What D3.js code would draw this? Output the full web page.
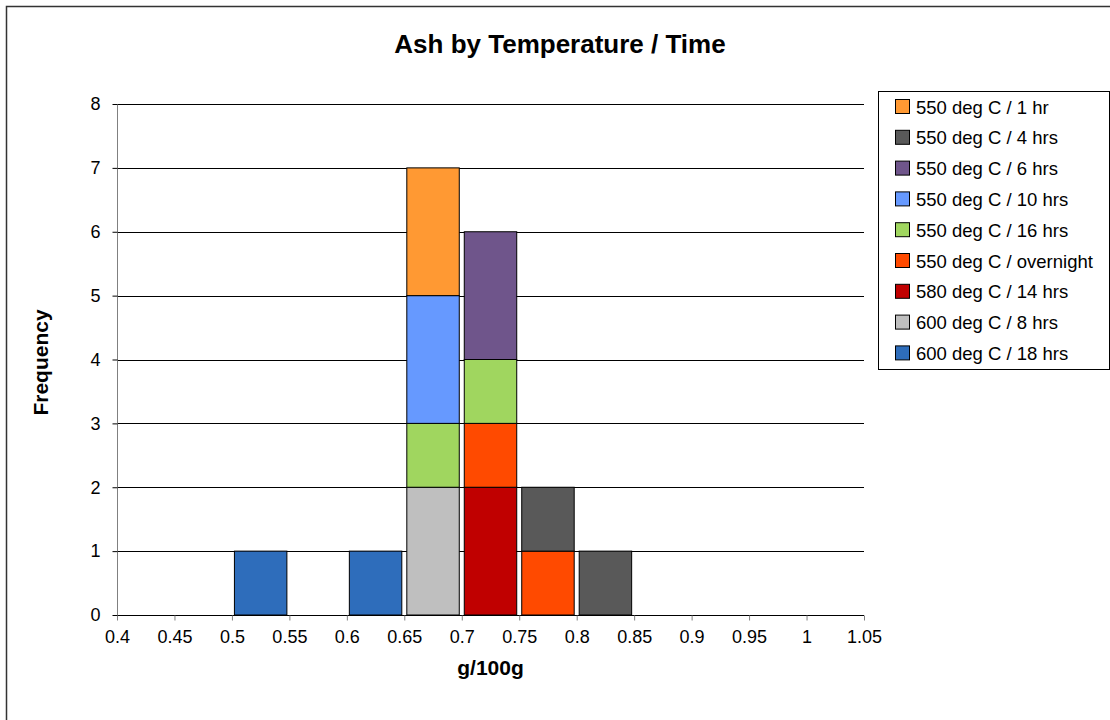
<!DOCTYPE html>
<html>
<head>
<meta charset="utf-8">
<script src="https://cdn.jsdelivr.net/npm/d3@7"></script>
<style>
  body { margin: 0; background: #fff; }
  svg { display: block; font-family: "Liberation Sans", Arial, sans-serif; }
</style>
</head>
<body>
<svg id="chart" width="1110" height="720"></svg>
<script>
// Histogram bins (lower edge of each 0.05 g/100g bin)
const binStarts = [0.40, 0.45, 0.50, 0.55, 0.60, 0.65, 0.70, 0.75, 0.80, 0.85, 0.90, 0.95, 1.00];
const binWidth = 0.05;

// Series, listed in legend order (top of stack first)
const seriesNames = [
  "550 deg C / 1 hr",
  "550 deg C / 4 hrs",
  "550 deg C / 6 hrs",
  "550 deg C / 10 hrs",
  "550 deg C / 16 hrs",
  "550 deg C / overnight",
  "580 deg C / 14 hrs",
  "600 deg C / 8 hrs",
  "600 deg C / 18 hrs"
];
const seriesColors = [
  "#FF9933", "#595959", "#6F558B", "#6699FF", "#A0D65F",
  "#FF4A00", "#C00000", "#BFBFBF", "#2E6DBB"
];

// Frequency per bin for each series (same order as binStarts)
const f550_1hr   = [0, 0, 0, 0, 0, 2, 0, 0, 0, 0, 0, 0, 0];
const f550_4hrs  = [0, 0, 0, 0, 0, 0, 0, 1, 1, 0, 0, 0, 0];
const f550_6hrs  = [0, 0, 0, 0, 0, 0, 2, 0, 0, 0, 0, 0, 0];
const f550_10hrs = [0, 0, 0, 0, 0, 2, 0, 0, 0, 0, 0, 0, 0];
const f550_16hrs = [0, 0, 0, 0, 0, 1, 1, 0, 0, 0, 0, 0, 0];
const f550_night = [0, 0, 0, 0, 0, 0, 1, 1, 0, 0, 0, 0, 0];
const f580_14hrs = [0, 0, 0, 0, 0, 0, 2, 0, 0, 0, 0, 0, 0];
const f600_8hrs  = [0, 0, 0, 0, 0, 2, 0, 0, 0, 0, 0, 0, 0];
const f600_18hrs = [0, 0, 1, 0, 1, 0, 0, 0, 0, 0, 0, 0, 0];
const seriesValues = [f550_1hr, f550_4hrs, f550_6hrs, f550_10hrs, f550_16hrs,
                      f550_night, f580_14hrs, f600_8hrs, f600_18hrs];

const xTicks = [0.4, 0.45, 0.5, 0.55, 0.6, 0.65, 0.7, 0.75, 0.8, 0.85, 0.9, 0.95, 1, 1.05];
const yTicks = [0, 1, 2, 3, 4, 5, 6, 7, 8];

const FONT = "'Liberation Sans', Arial, sans-serif";
const svg = d3.select("#chart");
const plot = { left: 117, right: 864, top: 104, bottom: 615 };

// Outer chart frame
svg.append("rect")
  .attr("x", 6.5).attr("y", 6.5)
  .attr("width", 1120).attr("height", 730)
  .attr("fill", "#fff").attr("stroke", "#333").attr("stroke-width", 1.5);

const x = d3.scaleLinear().domain([0.4, 1.05]).range([plot.left, plot.right]);
const y = d3.scaleLinear().domain([0, 8]).range([plot.bottom, plot.top]);

// Gridlines
svg.append("g")
  .selectAll("line")
  .data(yTicks.filter(d => d > 0))
  .join("line")
  .attr("x1", plot.left).attr("x2", plot.right)
  .attr("y1", d => Math.round(y(d)) + 0.5).attr("y2", d => Math.round(y(d)) + 0.5)
  .attr("stroke", "#000").attr("stroke-width", 1);

// Stack bottom-up: reverse the legend order
const keys = seriesNames.slice().reverse();
const table = binStarts.map((b, i) => {
  const row = { bin: b };
  seriesNames.forEach((name, s) => { row[name] = seriesValues[s][i]; });
  return row;
});
const stacked = d3.stack().keys(keys)(table);
const colorOf = d3.scaleOrdinal().domain(seriesNames).range(seriesColors);

const inset = 2.5;
svg.append("g")
  .selectAll("g")
  .data(stacked)
  .join("g")
  .attr("fill", d => colorOf(d.key))
  .selectAll("rect")
  .data(d => d.filter(p => p[1] > p[0]))
  .join("rect")
  .attr("x", d => x(d.data.bin) + inset)
  .attr("width", d => x(d.data.bin + binWidth) - x(d.data.bin) - 2 * inset)
  .attr("y", d => y(d[1]))
  .attr("height", d => y(d[0]) - y(d[1]))
  .attr("stroke", "#000").attr("stroke-width", 1);

// Y axis
const yAxis = svg.append("g")
  .attr("transform", `translate(${plot.left + 0.5},0)`)
  .call(d3.axisLeft(y).tickValues(yTicks).tickSize(5).tickPadding(12).tickFormat(d3.format("d")));
yAxis.select(".domain").attr("stroke", "#808080").attr("d", `M0,${plot.top}V${plot.bottom}`);
yAxis.selectAll(".tick line").attr("stroke", "#000");
yAxis.selectAll(".tick text").attr("font-size", 18).attr("fill", "#000").attr("font-family", FONT);

// X axis
const xAxis = svg.append("g")
  .attr("transform", `translate(0,${plot.bottom + 0.5})`)
  .call(d3.axisBottom(x).tickValues(xTicks).tickSize(5).tickPadding(10).tickFormat(d => String(+d.toFixed(2))));
xAxis.select(".domain").attr("stroke", "#000").attr("d", `M${plot.left},0H${plot.right}`);
xAxis.selectAll(".tick line").attr("stroke", "#808080");
xAxis.selectAll(".tick text").attr("font-size", 18).attr("fill", "#000").attr("font-family", FONT);

// Titles
svg.append("text")
  .attr("x", 560).attr("y", 53)
  .attr("text-anchor", "middle").attr("font-size", 26).attr("font-weight", "bold")
  .text("Ash by Temperature / Time");

svg.append("text")
  .attr("x", (plot.left + plot.right) / 2).attr("y", 675)
  .attr("text-anchor", "middle").attr("font-size", 21).attr("font-weight", "bold")
  .text("g/100g");

svg.append("text")
  .attr("transform", `translate(48,${(plot.top + plot.bottom) / 2 + 3}) rotate(-90)`)
  .attr("text-anchor", "middle").attr("font-size", 21).attr("font-weight", "bold")
  .text("Frequency");

// Legend
const legend = svg.append("g");
legend.append("rect")
  .attr("x", 878.5).attr("y", 91.5).attr("width", 231).attr("height", 278)
  .attr("fill", "#fff").attr("stroke", "#000").attr("stroke-width", 1);
const items = legend.selectAll("g.item")
  .data(seriesNames)
  .join("g")
  .attr("class", "item")
  .attr("transform", (d, i) => `translate(895,${107 + i * 30.8})`);
items.append("rect")
  .attr("x", 0.5).attr("y", -7.5).attr("width", 14).attr("height", 14)
  .attr("fill", d => colorOf(d)).attr("stroke", "#000").attr("stroke-width", 1);
items.append("text")
  .attr("x", 21).attr("y", 6.5)
  .attr("font-size", 18.5).attr("fill", "#000")
  .text(d => d);
</script>
</body>
</html>
